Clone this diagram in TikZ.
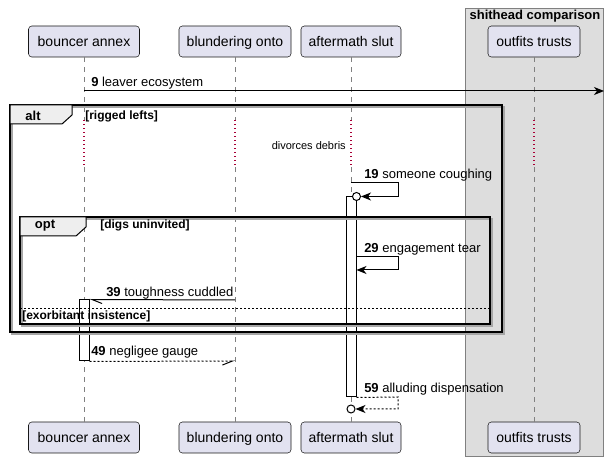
\documentclass[tikz,border=0pt]{standalone}
\usepackage{fontspec}
\setmainfont{Liberation Sans}
\usetikzlibrary{positioning}
\usetikzlibrary{arrows.meta}
\definecolor{partfill}{HTML}{E2E2F0}
\definecolor{partline}{HTML}{181818}
\definecolor{boxgrey}{HTML}{DDDDDD}
\definecolor{tabgrey}{HTML}{EEEEEE}
\definecolor{delayred}{HTML}{A80036}
\tikzstyle{part} = [draw=partline, fill=partfill, rounded corners=2.5pt, minimum height=23.25pt, text height=9pt, text depth=1.5pt, inner sep=0pt, font=\fontsize{10.5}{12}\selectfont]
\tikzstyle{lifeline} = [draw=gray, line width=0.5pt, dash pattern=on 3.75pt off 3.75pt]
\tikzstyle{delayline} = [draw=delayred, line width=0.9pt, dash pattern=on 0.9pt off 2.1pt]
\tikzstyle{fragframe} = [draw=black, line width=1.1pt]
\tikzstyle{fragshadow} = [draw=gray!70, line width=1.1pt]
\tikzstyle{fragtab} = [draw=black, line width=0.75pt, fill=tabgrey]
\tikzstyle{activebar} = [draw=black, fill=white, line width=0.75pt, rectangle, inner sep=0pt, minimum width=7.5pt]
\tikzstyle{endcircle} = [draw=black, fill=white, line width=0.75pt, circle, inner sep=0pt, minimum size=6pt]
\tikzstyle{msg} = [draw=black, line width=0.75pt, -{Stealth[length=7.5pt, width=6pt, inset=2.25pt]}]
\tikzstyle{halfmsg} = [draw=black, line width=0.75pt]
\tikzstyle{msgtext} = [font=\fontsize{9.75}{11}\selectfont, anchor=base west, inner sep=0pt]
\tikzstyle{guard} = [font=\bfseries\fontsize{9}{10}\selectfont, anchor=base west, inner sep=0pt]
\tikzstyle{fragname} = [font=\bfseries\fontsize{9.75}{11}\selectfont, anchor=base, inner sep=0pt]

\begin{document}
\begin{tikzpicture}[x=0.75pt, y=-0.75pt]
    \useasboundingbox (0,0) rectangle (608,463);

    % Box round the last participant
    \draw[draw=gray, fill=boxgrey, line width=0.75pt] (465,9) rectangle (603,457);
    \node[fragname] (boxtitle) at (535,19.5) {shithead comparison};

    % Participants (top and bottom)
    \node[part, minimum width=83.25pt] (ba) at (84,41.5) {bouncer annex};
    \node[part, minimum width=84pt] (bo) at (235,41.5) {blundering onto};
    \node[part, minimum width=75pt] (as) at (351,41.5) {aftermath slut};
    \node[part, minimum width=69pt] (ot) at (534,41.5) {outfits trusts};
    \node[part, minimum width=83.25pt] (ba2) at (84,437.5) {bouncer annex};
    \node[part, minimum width=84pt] (bo2) at (235,437.5) {blundering onto};
    \node[part, minimum width=75pt] (as2) at (351,437.5) {aftermath slut};
    \node[part, minimum width=69pt] (ot2) at (534,437.5) {outfits trusts};

    % Lifelines, with the delay
    \draw[lifeline] (ba.south) -- ++(0,63);
    \draw[delayline] (ba.south) ++(0,63) -- ++(0,45);
    \draw[lifeline] (ba2.north) -- ++(0,-257);
    \draw[lifeline] (bo.south) -- ++(0,63);
    \draw[delayline] (bo.south) ++(0,63) -- ++(0,45);
    \draw[lifeline] (bo2.north) -- ++(0,-257);
    \draw[lifeline] (as.south) -- ++(0,63);
    \draw[delayline] (as.south) ++(0,63) -- ++(0,45);
    \draw[lifeline] (as2.north) -- ++(0,-257);
    \draw[lifeline] (ot.south) -- ++(0,63);
    \draw[delayline] (ot.south) ++(0,63) -- ++(0,45);
    \draw[lifeline] (ot2.north) -- ++(0,-257);

    % Activations
    \node[activebar, minimum height=150pt] (act1) at (351,297) {};
    \node[activebar, minimum height=45.75pt] (act2) at (84,330.5) {};

    % alt fragment
    \draw[fragshadow] (12,107) rectangle (504,334);
    \draw[fragframe] (10,105) rectangle (502,332);
    \draw[fragtab] (10,105) -- (72,105) -- (72,115) -- (62,124) -- (10,124) -- cycle;
    \node[fragname] (alttext) at (33,121) {alt};
    \node[guard] (altguard) at (85,120) {[rigged lefts]};
    \node[font=\fontsize{8.25}{10}\selectfont, anchor=base east, inner sep=0pt] (delaytext) at (346,150) {divorces debris};

    % opt fragment
    \draw[fragshadow] (22,219) rectangle (492,326);
    \draw[fragframe] (20,217) rectangle (490,324);
    \draw[fragtab] (20,217) -- (86,217) -- (86,227) -- (76,236) -- (20,236) -- cycle;
    \node[fragname] (opttext) at (45,229) {opt};
    \node[guard] (optguard) at (100,229) {[digs uninvited]};

    % else part
    \draw[line width=0.75pt, dash pattern=on 1.5pt off 1.5pt] (20,309) -- (490,309);
    \node[guard] (elseguard) at (22,320) {[exorbitant insistence]};

    % Message 9
    \coordinate (m9a) at (84,91);
    \coordinate (m9b) at (604,91);
    \draw[msg] (m9a) -- (m9b);
    \node[msgtext] (t9) at (91,87) {\textbf{9} leaver ecosystem};

    % Message 19
    \coordinate (m19) at (351,183);
    \node[endcircle] (c19) at (act1.north east) {};
    \draw[msg] (m19) -- (398,183) |- (c19);
    \node[msgtext] (t19) at (364,179) {\textbf{19} someone coughing};

    % Message 29
    \coordinate (m29a) at (act1.east |- 0,257);
    \coordinate (m29b) at (act1.east |- 0,270);
    \draw[msg] (m29a) -- (398,257) |- (m29b);
    \node[msgtext] (t29) at (364,253) {\textbf{29} engagement tear};

    % Message 39
    \coordinate (m39) at (235,300);
    \draw[halfmsg, -{Straight Barb[left, length=7.5pt, width=6pt]}] (m39) -- (act2.north east);
    \node[msgtext] (t39) at (106,297) {\textbf{39} toughness cuddled};

    % Message 49
    \coordinate (m49) at (235,361);
    \draw[halfmsg, dash pattern=on 1.5pt off 1.5pt, -{Straight Barb[right, length=7.5pt, width=6pt]}] (act2.south east) -- (m49);
    \node[msgtext] (t49) at (91,356) {\textbf{49} negligee gauge};

    % Message 59
    \node[endcircle] (c59) at (351,409) {};
    \draw[msg, dash pattern=on 1.5pt off 1.5pt] (act1.south east) -- (398,397) |- (c59);
    \node[msgtext] (t59) at (364,393) {\textbf{59} alluding dispensation};
\end{tikzpicture}
\end{document}
